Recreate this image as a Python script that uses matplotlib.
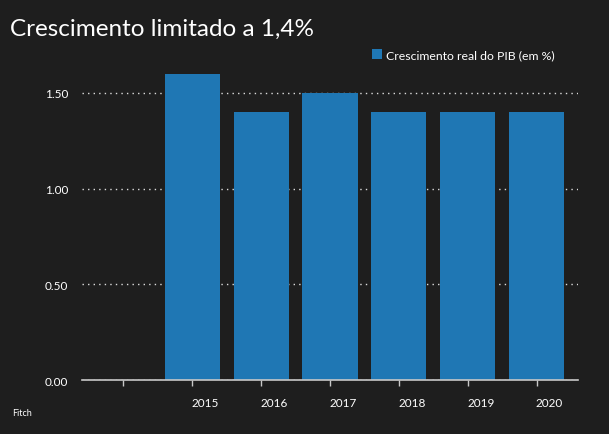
import matplotlib.pyplot as plt
import matplotlib.transforms as mtransforms

# data
categories = ['', '2015', '2016', '2017', '2018', '2019', '2020']
values = [0, 1.6, 1.4, 1.5, 1.4, 1.4, 1.4]
yticks = [0.0, 0.5, 1.0, 1.5]

bg = '#1e1e1e'
bar_color = '#1f77b4'
plt.rcParams['font.family'] = ['Lato', 'DejaVu Sans']

fig = plt.figure(figsize=(6.09, 4.35), dpi=100, facecolor=bg)
ax = fig.add_axes([0.1346, 0.124, 0.8144, 0.704], facecolor=bg)

x = list(range(len(categories)))
ax.bar(x[1:], values[1:], width=0.8, color=bar_color,
       label='Crescimento real do PIB (em %)', zorder=2)

ax.set_xlim(-0.6, 6.6)
ax.set_ylim(0, 1.6)
ax.set_yticks(yticks)
ax.set_yticklabels([f'{v:.2f}' for v in yticks])
ax.set_xticks(x)
ax.set_xticklabels(categories)

# gridlines
ax.grid(axis='y', color='white', linestyle=(0, (1, 3)), linewidth=1, alpha=0.85, zorder=1)
ax.set_axisbelow(True)

for s in ['top', 'right', 'left']:
    ax.spines[s].set_visible(False)
ax.spines['bottom'].set_color('#c8c8c8')
ax.spines['bottom'].set_linewidth(1.2)

ax.tick_params(axis='y', length=0, pad=10, colors='white', labelsize=8.5)
ax.tick_params(axis='x', length=4, width=1, color='#c8c8c8',
               labelsize=8.5, pad=8)
for lbl in ax.get_xticklabels():
    lbl.set_color('white')
    lbl.set_transform(lbl.get_transform() +
                      mtransforms.ScaledTranslation(13 / 100, 0, fig.dpi_scale_trans))

fig.text(0.016, 0.932, 'Crescimento limitado a 1,4%', color='white',
         fontsize=17.5, va='center', ha='left')
fig.text(0.02, 0.05, 'Fitch', color='white', fontsize=6.5, va='center', ha='left')

leg = ax.legend(loc='center left', bbox_to_anchor=(0.575, 1.062), frameon=False,
                fontsize=8.8, handlelength=0.8, handleheight=0.8,
                handletextpad=0.35, borderaxespad=0)
for t in leg.get_texts():
    t.set_color('white')

fig.savefig('out.png', dpi=100, facecolor=bg)
